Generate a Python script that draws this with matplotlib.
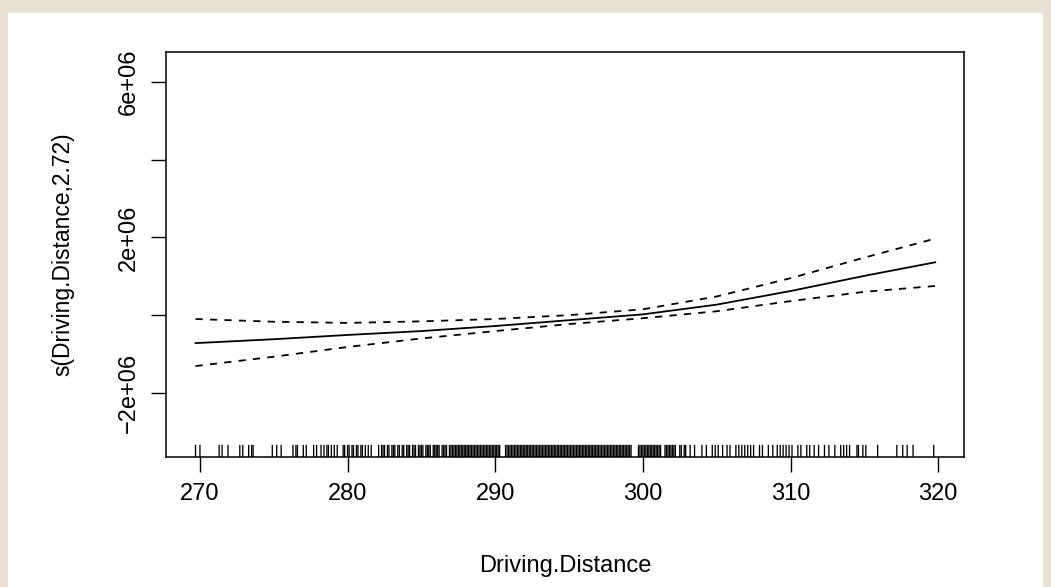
import matplotlib
matplotlib.use("Agg")
import matplotlib.pyplot as plt
from matplotlib import patches

plt.rcParams['font.family'] = ['Liberation Sans', 'DejaVu Sans']

# smooth term and its +/- 2 se band (units of 1e6)
dist = [269.7, 275, 280, 285, 290, 295, 300, 305, 310, 315, 319.8]
fit = [-0.72, -0.62, -0.51, -0.41, -0.28, -0.13, 0.02, 0.27, 0.62, 1.01, 1.36]
upper = [-0.10, -0.17, -0.20, -0.16, -0.10, 0.00, 0.15, 0.48, 0.95, 1.48, 1.97]
lower = [-1.31, -1.07, -0.82, -0.60, -0.41, -0.23, -0.08, 0.10, 0.36, 0.60, 0.75]

# rug: observed driving distances
rug = [
    269.7, 270.0, 271.3, 271.5, 271.9, 272.7, 272.9, 273.3, 273.5, 273.6,
    274.9, 275.2, 275.5, 276.3, 276.5, 276.6, 277.0, 277.2, 277.7, 277.9,
    278.2, 278.4, 278.6, 278.7, 278.9, 279.1, 279.3, 279.7, 279.8, 280.0,
    280.1, 280.3, 280.4, 280.6, 280.7, 280.9, 281.0, 281.2, 281.4, 281.6,
    282.1, 282.3, 282.4, 282.5, 282.7, 282.8, 283.0, 283.1, 283.2, 283.4,
    283.5, 283.7, 283.8, 284.0, 284.1, 284.2, 284.4, 284.5, 284.6, 284.8,
    284.9, 285.0, 285.1, 285.3, 285.4, 285.5, 285.6, 285.8, 285.9, 286.0,
    286.1, 286.2, 286.4, 286.5, 286.6, 286.7, 286.9, 287.0, 287.1, 287.2,
    287.3, 287.4, 287.5, 287.6, 287.7, 287.8, 287.9, 288.0, 288.1, 288.2,
    288.3, 288.4, 288.5, 288.6, 288.7, 288.8, 288.9, 289.0, 289.1, 289.2,
    289.3, 289.4, 289.5, 289.6, 289.7, 289.8, 289.9, 290.0, 290.1, 290.2,
    290.3, 290.7, 290.8, 290.9, 291.0, 291.1, 291.2, 291.3, 291.4, 291.5,
    291.6, 291.7, 291.8, 291.9, 292.0, 292.1, 292.2, 292.3, 292.4, 292.5,
    292.6, 292.7, 292.8, 292.9, 293.0, 293.1, 293.2, 293.3, 293.4, 293.5,
    293.6, 293.7, 293.8, 293.9, 294.0, 294.1, 294.2, 294.3, 294.4, 294.5,
    294.6, 294.7, 294.8, 294.9, 295.0, 295.1, 295.2, 295.3, 295.4, 295.5,
    295.6, 295.7, 295.8, 295.9, 296.0, 296.1, 296.2, 296.3, 296.4, 296.5,
    296.6, 296.7, 296.8, 296.9, 297.0, 297.1, 297.2, 297.3, 297.4, 297.5,
    297.6, 297.7, 297.8, 297.9, 298.0, 298.1, 298.2, 298.3, 298.4, 298.5,
    298.6, 298.7, 298.8, 298.9, 299.0, 299.1, 299.2, 299.7, 299.8, 299.9,
    300.0, 300.1, 300.2, 300.3, 300.4, 300.5, 300.6, 300.7, 300.8, 300.9,
    301.0, 301.1, 301.2, 301.5, 301.6, 301.7, 301.8, 301.9, 302.0, 302.1,
    302.2, 302.5, 302.6, 302.8, 302.9, 303.2, 303.5, 304.0, 304.3, 304.7,
    304.9, 305.1, 305.4, 305.7, 305.9, 306.3, 306.5, 306.7, 306.9, 307.1,
    307.3, 307.5, 307.9, 308.1, 308.5, 308.8, 309.1, 309.3, 309.5, 309.7,
    309.9, 310.1, 310.5, 310.7, 311.1, 311.3, 311.6, 311.9, 312.3, 312.6,
    313.0, 313.4, 313.6, 313.8, 314.0, 314.5, 314.6, 314.9, 315.1, 315.9,
    317.2, 317.6, 317.9, 318.3, 319.7,
]

x_ticks = [270, 280, 290, 300, 310, 320]
y_ticks = [-2e6, 0, 2e6, 4e6, 6e6]
y_tick_labels = ['\u22122e+06', '', '2e+06', '', '6e+06']

fig = plt.figure(figsize=(10.51, 5.87), dpi=100)
fig.patch.set_facecolor('#e9e1d5')
# white page panel
fig.patches.append(patches.Rectangle((8 / 1051, 0), 1035 / 1051, 574 / 587,
                                     transform=fig.transFigure, facecolor='white',
                                     edgecolor='none', zorder=-10))

ax = fig.add_axes([166 / 1051, 1 - 457 / 587, 798 / 1051, 405 / 587])
ax.set_facecolor('white')

ax.plot(dist, [v * 1e6 for v in fit], color='black', lw=1.3)
ax.plot(dist, [v * 1e6 for v in upper], color='black', lw=1.3, dashes=(4, 4))
ax.plot(dist, [v * 1e6 for v in lower], color='black', lw=1.3, dashes=(4, 4))

rug_lines = ax.vlines(rug, 0, 0.03, transform=ax.get_xaxis_transform(),
                      colors='black', lw=0.95)
rug_lines.set_snap(False)

ax.set_xlim(267.7, 321.75)
ax.set_ylim(-3.65e6, 6.77e6)

ax.set_xticks(x_ticks)
ax.set_xticklabels([str(t) for t in x_ticks])
ax.set_yticks(y_ticks)
ax.set_yticklabels(y_tick_labels, rotation=90, va='center')

ax.tick_params(axis='both', direction='out', length=11, width=1,
               labelsize=17, colors='black')
ax.tick_params(axis='x', pad=8)
ax.tick_params(axis='y', pad=8)

for s in ax.spines.values():
    s.set_linewidth(1.1)
    s.set_color('black')

ax.set_xlabel('Driving.Distance', fontsize=17, labelpad=36)
ax.set_ylabel('s(Driving.Distance,2.72)', fontsize=16.5, labelpad=31)

fig.savefig('out.png', dpi=100, facecolor=fig.get_facecolor())
